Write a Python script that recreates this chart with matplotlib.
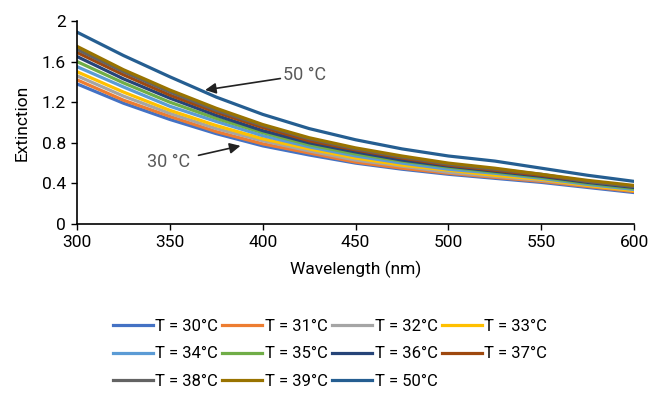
import matplotlib
matplotlib.use("Agg")
import matplotlib.pyplot as plt

plt.rcParams['font.family'] = ['Roboto', 'DejaVu Sans']

wavelength = [300, 325, 350, 375, 400, 425, 450, 475, 500, 525, 550, 575, 600]

ext_30 = [1.38, 1.19, 1.03, 0.89, 0.77, 0.68, 0.60, 0.54, 0.49, 0.45, 0.41, 0.36, 0.31]
ext_31 = [1.42, 1.22, 1.06, 0.91, 0.79, 0.70, 0.61, 0.55, 0.50, 0.46, 0.42, 0.37, 0.32]
ext_32 = [1.46, 1.26, 1.09, 0.94, 0.82, 0.72, 0.63, 0.57, 0.51, 0.47, 0.43, 0.38, 0.33]
ext_33 = [1.50, 1.30, 1.12, 0.97, 0.84, 0.74, 0.65, 0.58, 0.53, 0.48, 0.44, 0.38, 0.33]
ext_34 = [1.55, 1.35, 1.16, 1.01, 0.87, 0.76, 0.67, 0.60, 0.54, 0.50, 0.45, 0.39, 0.34]
ext_35 = [1.60, 1.39, 1.20, 1.04, 0.90, 0.78, 0.69, 0.62, 0.56, 0.51, 0.46, 0.40, 0.35]
ext_36 = [1.65, 1.43, 1.24, 1.07, 0.92, 0.80, 0.71, 0.63, 0.57, 0.52, 0.47, 0.41, 0.36]
ext_37 = [1.69, 1.47, 1.27, 1.10, 0.95, 0.82, 0.73, 0.65, 0.58, 0.53, 0.48, 0.42, 0.37]
ext_38 = [1.72, 1.50, 1.30, 1.12, 0.97, 0.84, 0.74, 0.66, 0.59, 0.54, 0.49, 0.42, 0.37]
ext_39 = [1.75, 1.52, 1.32, 1.14, 0.98, 0.85, 0.75, 0.67, 0.60, 0.55, 0.49, 0.43, 0.38]
ext_50 = [1.89, 1.66, 1.45, 1.25, 1.08, 0.94, 0.83, 0.74, 0.67, 0.62, 0.55, 0.48, 0.42]

series = [ext_30, ext_31, ext_32, ext_33, ext_34, ext_35, ext_36, ext_37, ext_38, ext_39, ext_50]
labels = ['T = 30°C', 'T = 31°C', 'T = 32°C', 'T = 33°C', 'T = 34°C', 'T = 35°C',
          'T = 36°C', 'T = 37°C', 'T = 38°C', 'T = 39°C', 'T = 50°C']
colors = ['#4472C4', '#ED7D31', '#A5A5A5', '#FFC000', '#5B9BD5', '#70AD47',
          '#264478', '#9E480E', '#636363', '#997300', '#255E91']

fig = plt.figure(figsize=(6.5, 3.93), dpi=100)
ax = fig.add_axes([0.1185, 0.430, 0.857, 0.5166])

handles = []
for y, lab, c in zip(series, labels, colors):
    h, = ax.plot(wavelength, y, color=c, linewidth=2.3, label=lab)
    handles.append(h)

ax.set_xlim(300, 600)
ax.set_ylim(0, 2)
ax.set_xticks([300, 350, 400, 450, 500, 550, 600])
ax.set_yticks([0, 0.4, 0.8, 1.2, 1.6, 2])
ax.set_yticklabels(['0', '0.4', '0.8', '1.2', '1.6', '2'])
ax.tick_params(axis='both', direction='out', length=4, width=1, labelsize=12.5,
               colors='black', pad=4)
for s in ['top', 'right']:
    ax.spines[s].set_visible(False)
for s in ['left', 'bottom']:
    ax.spines[s].set_linewidth(1.2)
ax.set_xlabel('Wavelength (nm)', fontsize=12.5, labelpad=8)
ax.set_ylabel('Extinction', fontsize=12.5, labelpad=9)

ax.annotate('50 °C', xy=(369, 1.32), xytext=(411, 1.47), fontsize=13, color='#595959',
            va='center', ha='left',
            arrowprops=dict(arrowstyle='-|>', color='#222222', lw=1.2, mutation_scale=16,
                            shrinkA=0, shrinkB=0))
ax.annotate('30 °C', xy=(388, 0.77), xytext=(361, 0.61), fontsize=13, color='#595959',
            va='center', ha='right',
            arrowprops=dict(arrowstyle='-|>', color='#222222', lw=1.2, mutation_scale=16,
                            shrinkA=4, shrinkB=0))

# row-major order for a 4-column legend
order = [0, 4, 8, 1, 5, 9, 2, 6, 10, 3, 7]
ax.legend([handles[i] for i in order], [labels[i] for i in order],
          loc='center', bbox_to_anchor=(0.454, -0.64), ncol=4, frameon=False,
          fontsize=12, handlelength=2.4, handletextpad=0.15, columnspacing=0.25,
          labelspacing=0.75)

fig.savefig('out.png', dpi=100)
